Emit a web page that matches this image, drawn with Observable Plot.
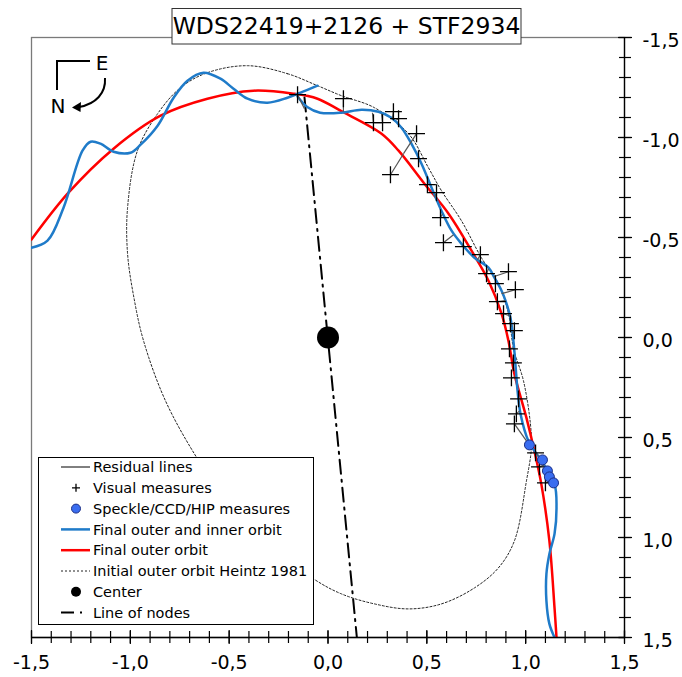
<!DOCTYPE html>
<html>
<head>
<meta charset="utf-8">
<script src="https://cdn.jsdelivr.net/npm/d3@7"></script>
<script src="https://cdn.jsdelivr.net/npm/@observablehq/plot@0.6"></script>
<style>
  html, body { margin: 0; padding: 0; background: white; }
  svg { display: block; }
</style>
</head>
<body>
<div id="chart"></div>
<script>
// ---------- DATA ----------
const titleText = "WDS22419+2126 + STF2934";
const majorTicks = [-1.5, -1.0, -0.5, 0.0, 0.5, 1.0, 1.5];
const tickLabels = ["-1,5", "-1,0", "-0,5", "0,0", "0,5", "1,0", "1,5"];
const minorTicks = [-1.5,-1.4,-1.3,-1.2,-1.1,-1.0,-0.9,-0.8,-0.7,-0.6,-0.5,-0.4,-0.3,-0.2,-0.1,0,
  0.1,0.2,0.3,0.4,0.5,0.6,0.7,0.8,0.9,1.0,1.1,1.2,1.3,1.4,1.5];

// Final outer orbit (red)
const outerOrbit = [
  [-1.50,-0.49],[-1.313,-0.724],[-1.085,-0.944],[-0.847,-1.109],[-0.610,-1.194],
  [-0.377,-1.234],[-0.175,-1.219],[-0.053,-1.194],[0.063,-1.134],[0.271,-1.019],
  [0.357,-0.934],[0.488,-0.769],[0.610,-0.619],[0.726,-0.434],[0.812,-0.284],
  [0.878,-0.119],[0.913,0.017],[0.943,0.182],[1.004,0.402],[1.044,0.567],
  [1.079,0.732],[1.120,1.017],[1.146,1.352],[1.156,1.50]
];

// Final outer and inner orbit (blue), two stretches
const innerOrbitA = [
  [-1.50,-0.449],[-1.419,-0.484],[-1.338,-0.649],[-1.242,-0.934],[-1.201,-0.979],
  [-1.151,-0.969],[-1.085,-0.929],[-0.999,-0.924],[-0.948,-0.964],[-0.862,-1.059],
  [-0.781,-1.199],[-0.711,-1.284],[-0.630,-1.324],[-0.544,-1.294],[-0.478,-1.244],
  [-0.407,-1.194],[-0.306,-1.174],[-0.205,-1.199],[-0.139,-1.224],[-0.053,-1.259]
];
const innerOrbitB = [
  [-0.154,-1.205],[-0.105,-1.152],[-0.04,-1.124],[0.068,-1.124],[0.169,-1.139],
  [0.255,-1.129],[0.321,-1.099],[0.372,-1.049],[0.422,-0.969],[0.473,-0.869],
  [0.524,-0.749],[0.574,-0.634],[0.625,-0.534],[0.675,-0.469],[0.741,-0.399],
  [0.812,-0.349],[0.842,-0.299],[0.878,-0.234],[0.898,-0.184],[0.923,-0.099],
  [0.938,0.017],[0.948,0.132],[0.959,0.267],[0.974,0.382],[1.014,0.517],
  [1.080,0.617],[1.146,0.732],[1.156,0.852],[1.146,0.982],[1.120,1.082],
  [1.105,1.182],[1.105,1.317],[1.120,1.432],[1.146,1.50]
];

// Initial outer orbit Heintz 1981 (dotted, closed)
const heintzOrbit = [
  [-0.407,-1.359],[-0.205,-1.319],[-0.053,-1.259],[0.068,-1.209],[0.235,-1.149],
  [0.407,-1.019],[0.508,-0.849],[0.574,-0.734],[0.675,-0.584],[0.776,-0.399],
  [0.862,-0.269],[0.913,-0.119],[0.938,0.052],[0.989,0.217],[1.024,0.432],
  [1.029,0.552],[1.004,0.717],[0.943,1.017],[0.862,1.152],[0.741,1.252],
  [0.574,1.332],[0.407,1.357],[0.235,1.332],[0.068,1.282],[-0.073,1.207],
  [-0.291,1.042],[-0.493,0.842],[-0.660,0.607],[-0.822,0.317],[-0.933,0.017],
  [-0.982,-0.200],[-1.014,-0.419],[-1.014,-0.649],[-0.964,-0.934],[-0.862,-1.119],
  [-0.746,-1.249],[-0.610,-1.324]
];

// Visual measures: [x, y, predicted x, predicted y]
const visualMeasures = [
  [-0.154,-1.214,-0.119,-1.144],[0.078,-1.194,0.078,-1.129],[0.331,-1.129,0.326,-1.094],
  [0.357,-1.094,0.346,-1.089],[0.230,-1.074,0.225,-1.124],[0.276,-1.074,0.271,-1.119],
  [0.448,-1.019,0.382,-0.919],[0.316,-0.814,0.382,-0.919],[0.458,-0.894,0.458,-0.899],
  [0.503,-0.764,0.513,-0.769],[0.549,-0.724,0.539,-0.704],[0.569,-0.599,0.579,-0.619],
  [0.584,-0.474,0.635,-0.514],[0.685,-0.454,0.680,-0.464],[0.771,-0.414,0.756,-0.389],
  [0.802,-0.319,0.812,-0.344],[0.913,-0.329,0.837,-0.304],[0.847,-0.269,0.847,-0.289],
  [0.948,-0.239,0.878,-0.219],[0.857,-0.179,0.898,-0.184],[0.888,-0.119,0.918,-0.109],
  [0.923,-0.069,0.928,-0.054],[0.943,-0.034,0.933,-0.019],[0.918,0.057,0.938,0.052],
  [0.938,0.127,0.943,0.117],[0.928,0.202,0.948,0.197],[0.964,0.307,0.959,0.302],
  [0.953,0.382,0.969,0.367],[0.943,0.432,1.004,0.517],[1.050,0.577,1.065,0.592],
  [1.070,0.647,1.095,0.637],[1.100,0.727,1.136,0.717]
];

// Speckle / CCD / HIP measures
const speckleMeasures = [
  [1.019,0.537],[1.085,0.612],[1.110,0.667],[1.120,0.697],[1.141,0.727]
];

const centerPoint = [[0, 0]];
const lineOfNodes = [[-0.119,-1.20],[0.146,1.50]];

const legendItems = [
  "Residual lines", "Visual measures", "Speckle/CCD/HIP measures",
  "Final outer and inner orbit", "Final outer orbit",
  "Initial outer orbit Heintz 1981", "Center", "Line of nodes"
];

// ---------- COLORS ----------
const BLUE = "#1f7bc9", RED = "#ff0000", DOT = "#3a6df0";

const fmt = d => tickLabels[majorTicks.findIndex(t => Math.abs(t - d) < 1e-9)];

const chart = Plot.plot({
  width: 682,
  height: 677,
  marginLeft: 31,
  marginRight: 58,
  marginTop: 37,
  marginBottom: 40,
  style: {fontFamily: "DejaVu Sans", fontSize: "19px", background: "white", color: "black"},
  x: {domain: [-1.5, 1.5]},
  y: {domain: [-1.5, 1.5], reverse: true},
  marks: [
    Plot.frame({stroke: "#7a7a7a", strokeWidth: 1.3}),
    Plot.line(heintzOrbit, {x: d => d[0], y: d => d[1], curve: "catmull-rom-closed",
      stroke: "#222", strokeWidth: 1, strokeDasharray: "2,2", clip: true}),
    Plot.line(lineOfNodes, {x: d => d[0], y: d => d[1], stroke: "black", strokeWidth: 2,
      strokeDasharray: "14,6,2,6", clip: true}),
    Plot.line(outerOrbit, {x: d => d[0], y: d => d[1], curve: "catmull-rom",
      stroke: RED, strokeWidth: 2.5, clip: true}),
    Plot.line(innerOrbitA, {x: d => d[0], y: d => d[1], curve: "catmull-rom",
      stroke: BLUE, strokeWidth: 2.5, clip: true}),
    Plot.line(innerOrbitB, {x: d => d[0], y: d => d[1], curve: "catmull-rom",
      stroke: BLUE, strokeWidth: 2.5, clip: true}),
    Plot.link(visualMeasures, {x1: d => d[0], y1: d => d[1], x2: d => d[2], y2: d => d[3],
      stroke: "#555", strokeWidth: 1.2}),
    Plot.dot(visualMeasures, {x: d => d[0], y: d => d[1], symbol: "plus", r: 5.5,
      stroke: "black", strokeWidth: 1.3}),
    Plot.dot(speckleMeasures, {x: d => d[0], y: d => d[1], r: 5, fill: DOT,
      stroke: "#1c2f86", strokeWidth: 1}),
    Plot.dot(centerPoint, {x: d => d[0], y: d => d[1], r: 11, fill: "black"}),
    // axis lines
    Plot.ruleY([majorTicks[majorTicks.length - 1]], {stroke: "black", strokeWidth: 1.3}),
    Plot.ruleX([majorTicks[majorTicks.length - 1]], {stroke: "black", strokeWidth: 1.3}),
    // ticks crossing the axes
    Plot.axisX({ticks: minorTicks, tickSize: 12, dy: -6, tickFormat: () => "", label: null, strokeWidth: 1.2}),
    Plot.axisX({ticks: majorTicks, tickSize: 14, dy: -7, tickFormat: () => "", label: null, strokeWidth: 1.2}),
    Plot.axisX({ticks: majorTicks, tickSize: 0, tickPadding: 18, tickFormat: fmt, label: null, fontSize: 19}),
    Plot.axisY({anchor: "right", ticks: minorTicks, tickSize: 12, dx: -6, tickFormat: () => "", label: null, strokeWidth: 1.2}),
    Plot.axisY({anchor: "right", ticks: majorTicks, tickSize: 14, dx: -7, tickFormat: () => "", label: null, strokeWidth: 1.2}),
    Plot.axisY({anchor: "right", ticks: majorTicks, tickSize: 0, tickPadding: 18, dy: 3, tickFormat: fmt, label: null, fontSize: 19})
  ]
});
document.getElementById("chart").appendChild(chart);

// ---------- TITLE, COMPASS, LEGEND ----------
const svg = d3.select(chart);
const FONT = "DejaVu Sans";

// Title box
const tg = svg.append("g");
tg.append("rect").attr("x", 172).attr("y", 8.5).attr("width", 349).attr("height", 35.5)
  .attr("fill", "white").attr("stroke", "#333").attr("stroke-width", 1);
tg.append("text").attr("x", 346.5).attr("y", 34).attr("text-anchor", "middle")
  .attr("font-family", FONT).attr("font-size", 23.5).attr("fill", "black").text(titleText);

// Compass
const cg = svg.append("g").attr("fill", "none").attr("stroke", "black").attr("stroke-width", 2);
cg.append("path").attr("d", "M57,90 V61 H90");
cg.append("path").attr("d", "M105,78 C106,93 96,104 79,107");
svg.append("path").attr("d", "M72,107.5 L81,102 L80.5,112 Z").attr("fill", "black");
svg.append("text").attr("x", 102).attr("y", 70).attr("text-anchor", "middle")
  .attr("font-family", FONT).attr("font-size", 20).text("E");
svg.append("text").attr("x", 58).attr("y", 113).attr("text-anchor", "middle")
  .attr("font-family", FONT).attr("font-size", 20).text("N");

// Legend
const lg = svg.append("g");
lg.append("rect").attr("x", 38.5).attr("y", 457.5).attr("width", 275).attr("height", 167)
  .attr("fill", "white").attr("stroke", "black").attr("stroke-width", 1);
const rowY = i => 467 + i * 20.8;
legendItems.forEach((label, i) => {
  const y = rowY(i);
  lg.append("text").attr("x", 93).attr("y", y).attr("dy", "0.36em").attr("text-anchor", "start")
    .attr("font-family", FONT).attr("font-size", 14.5).attr("fill", "black").text(label);
});
// samples
lg.append("line").attr("x1", 61).attr("x2", 90).attr("y1", rowY(0)).attr("y2", rowY(0))
  .attr("stroke", "black").attr("stroke-width", 1);
lg.append("path").attr("d", `M72,${rowY(1)} h8 M76,${rowY(1) - 4} v8`)
  .attr("stroke", "black").attr("stroke-width", 1.3);
lg.append("circle").attr("cx", 76).attr("cy", rowY(2)).attr("r", 4.5)
  .attr("fill", DOT).attr("stroke", "#1c2f86");
lg.append("line").attr("x1", 61).attr("x2", 90).attr("y1", rowY(3)).attr("y2", rowY(3))
  .attr("stroke", BLUE).attr("stroke-width", 2.5);
lg.append("line").attr("x1", 61).attr("x2", 90).attr("y1", rowY(4)).attr("y2", rowY(4))
  .attr("stroke", RED).attr("stroke-width", 2.5);
lg.append("line").attr("x1", 61).attr("x2", 90).attr("y1", rowY(5)).attr("y2", rowY(5))
  .attr("stroke", "#222").attr("stroke-width", 1).attr("stroke-dasharray", "2,2");
lg.append("circle").attr("cx", 76).attr("cy", rowY(6)).attr("r", 5).attr("fill", "black");
lg.append("line").attr("x1", 61).attr("x2", 90).attr("y1", rowY(7)).attr("y2", rowY(7))
  .attr("stroke", "black").attr("stroke-width", 2).attr("stroke-dasharray", "13,6,2,20");
</script>
</body>
</html>
